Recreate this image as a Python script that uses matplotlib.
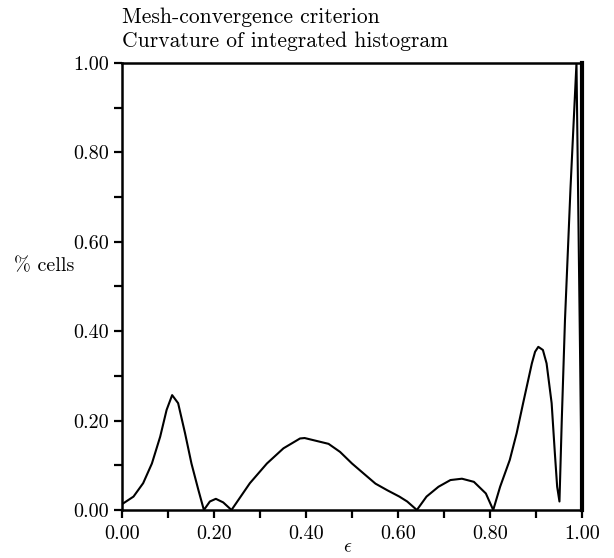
######################################################
# Mesh-convergence criterion: curvature of integrated histogram
######################################################
import matplotlib
matplotlib.use("Agg")
import matplotlib.pyplot as plt
from matplotlib.ticker import MultipleLocator, FormatStrFormatter

######## Data ########
eps = [0.000, 0.025, 0.046, 0.065, 0.083, 0.097, 0.109, 0.122, 0.137, 0.151, 0.166, 0.178,
       0.191, 0.204, 0.220, 0.238,
       0.278, 0.315, 0.351, 0.387, 0.397, 0.449, 0.474, 0.500, 0.526, 0.551, 0.577, 0.603, 0.620, 0.641,
       0.662, 0.688, 0.714, 0.739, 0.765, 0.791, 0.807,
       0.822, 0.843, 0.858, 0.872, 0.891, 0.898, 0.905, 0.915, 0.923, 0.934, 0.941, 0.946, 0.951,
       0.956, 0.963, 0.975, 0.988, 1.000]
cells = [0.013, 0.030, 0.060, 0.104, 0.164, 0.224, 0.257, 0.239, 0.172, 0.104, 0.045, 0.000,
         0.019, 0.025, 0.017, 0.000,
         0.060, 0.104, 0.138, 0.160, 0.161, 0.148, 0.130, 0.104, 0.081, 0.059, 0.044, 0.030, 0.019, 0.000,
         0.030, 0.052, 0.067, 0.070, 0.063, 0.037, 0.000,
         0.052, 0.112, 0.172, 0.239, 0.328, 0.354, 0.365, 0.358, 0.328, 0.239, 0.127, 0.052, 0.019,
         0.200, 0.425, 0.720, 1.000, 0.000]

title_lines = ["Mesh-convergence criterion", "Curvature of integrated histogram"]

plt.rcParams["font.family"] = "cmr10"
plt.rcParams["mathtext.fontset"] = "cm"
plt.rcParams["axes.formatter.use_mathtext"] = True

######## Figure ########
fig = plt.figure(figsize=(6.14, 5.58), dpi=100)
ax = fig.add_axes([122 / 614, 48 / 558, 460 / 614, 447 / 558])

ax.plot(eps, cells, color="black", linewidth=1.5, solid_joinstyle="round")

ax.set_xlim(0, 1)
ax.set_ylim(0, 1)
ax.xaxis.set_major_locator(MultipleLocator(0.2))
ax.xaxis.set_minor_locator(MultipleLocator(0.1))
ax.yaxis.set_major_locator(MultipleLocator(0.2))
ax.yaxis.set_minor_locator(MultipleLocator(0.1))
ax.xaxis.set_major_formatter(FormatStrFormatter("%.2f"))
ax.yaxis.set_major_formatter(FormatStrFormatter("%.2f"))
ax.tick_params(which="both", direction="out", length=6, width=1.6,
               labelsize=14.5, top=False, right=False)
ax.tick_params(axis="x", which="major", pad=5)

for side in ["left", "bottom", "top"]:
    ax.spines[side].set_linewidth(1.8)
ax.spines["right"].set_linewidth(3)

ax.set_xlabel(r"$\epsilon$", fontsize=14, va="center")
ax.xaxis.set_label_coords(0.49, -0.083)
ax.set_ylabel("% cells", rotation=0, fontsize=14.5, ha="left", va="center")
ax.yaxis.set_label_coords(-0.235, 0.546)

fig.text(122 / 614, 1 - 17 / 558, title_lines[0], fontsize=15.5, va="center", ha="left")
fig.text(122 / 614, 1 - 41 / 558, title_lines[1], fontsize=15.5, va="center", ha="left")

fig.savefig("out.png", dpi=100)
